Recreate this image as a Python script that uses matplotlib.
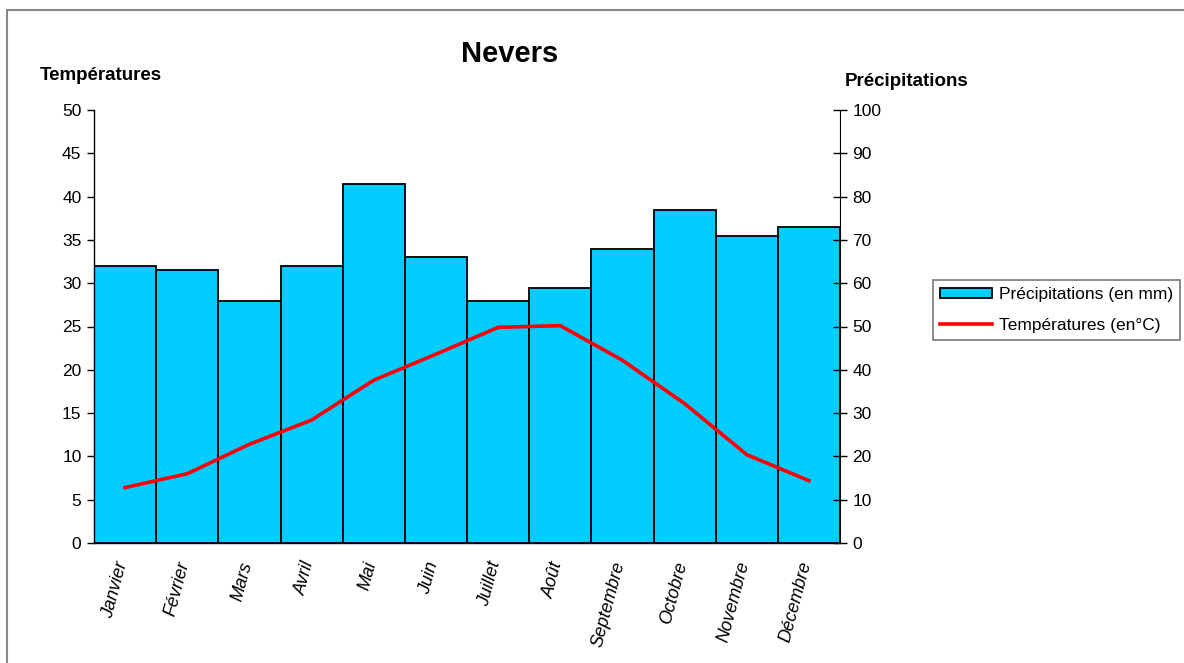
import matplotlib
matplotlib.use("Agg")
import matplotlib.pyplot as plt
import matplotlib.transforms as mtransforms
import numpy as np
from matplotlib.patches import Rectangle

plt.rcParams['font.family'] = ['Liberation Sans', 'DejaVu Sans']

months = ["Janvier", "Février", "Mars", "Avril", "Mai", "Juin", "Juillet",
          "Août", "Septembre", "Octobre", "Novembre", "Décembre"]
precip = [64, 63, 56, 64, 83, 66, 56, 59, 68, 77, 71, 73]
temp = [6.4, 8.0, 11.4, 14.2, 18.8, 21.8, 24.9, 25.1, 21.1, 16.1, 10.2, 7.2]
temp_ticks = [0, 5, 10, 15, 20, 25, 30, 35, 40, 45, 50]
precip_ticks = [0, 10, 20, 30, 40, 50, 60, 70, 80, 90, 100]

W, H = 1184, 663
fig = plt.figure(figsize=(W / 100, H / 100), dpi=100)

# chart-area border (gray)
fig.add_artist(Rectangle((7 / W, -0.1), 1.2, 1 - 10 / H + 0.1, transform=fig.transFigure,
                         fill=False, edgecolor='#888888', lw=1.5))

ax = fig.add_axes([94 / W, 1 - 543 / H, (840 - 94) / W, (543 - 110) / H])
ax2 = ax.twinx()

x = np.arange(len(months)) + 0.5
ax2.bar(x, precip, width=1.0, color='#00CCFF', edgecolor='black', linewidth=1.3,
        label='Précipitations (en mm)')
ax.plot(x, temp, color='#FF0000', lw=2.6, label='Températures (en°C)', solid_joinstyle='round')

ax.set_zorder(ax2.get_zorder() + 1)
ax.patch.set_visible(False)

ax.set_xlim(0, 12)
ax.set_ylim(0, 50)
ax2.set_ylim(0, 100)

for a in (ax, ax2):
    a.spines['top'].set_visible(False)
ax.spines['right'].set_visible(False)
ax2.spines['left'].set_visible(False)
for s in ('left', 'bottom'):
    ax.spines[s].set_color('black')
    ax.spines[s].set_linewidth(1.0)
ax2.spines['right'].set_color('black')
ax2.spines['bottom'].set_visible(False)

ax.set_yticks(temp_ticks)
ax.tick_params(axis='y', direction='out', length=5, width=1, labelsize=12.5, pad=4)
ax2.set_yticks(precip_ticks)
ax2.tick_params(axis='y', direction='inout', length=10, width=1, labelsize=12.5, pad=4)

ax.set_xticks(np.arange(13))
ax.set_xticklabels([])
ax.tick_params(axis='x', which='major', direction='out', length=5, width=1)
ax.set_xticks(x, minor=True)
ax.set_xticklabels(months, minor=True, rotation=75, ha='right', va='top',
                   fontstyle='italic', fontsize=13)
ax.tick_params(axis='x', which='minor', length=0, pad=12)
ax2.set_xticks([])
offset = mtransforms.ScaledTranslation(6 / 100, 0, fig.dpi_scale_trans)
for lab in ax.get_xticklabels(minor=True):
    lab.set_transform(lab.get_transform() + offset)

fig.text(510 / W, 1 - 54 / H, "Nevers", ha='center', va='center', fontsize=21, fontweight='bold')
fig.text(40 / W, 1 - 75 / H, "Températures", ha='left', va='center', fontsize=13.5, fontweight='bold')
fig.text(845 / W, 1 - 82 / H, "Précipitations", ha='left', va='center', fontsize=13.5, fontweight='bold')

h1, l1 = ax2.get_legend_handles_labels()
h2, l2 = ax.get_legend_handles_labels()
leg = fig.legend(h1 + h2, l1 + l2, loc='upper left', bbox_to_anchor=(933 / W, 1 - 280 / H),
                 bbox_transform=fig.transFigure, fontsize=12.5, frameon=True, fancybox=False,
                 shadow=False, borderaxespad=0, handlelength=3.0, handleheight=0.55,
                 borderpad=0.4, labelspacing=0.9, handletextpad=0.4)
leg.get_frame().set_edgecolor('#555555')
leg.get_frame().set_linewidth(1.2)

fig.savefig("out.png", dpi=100)
